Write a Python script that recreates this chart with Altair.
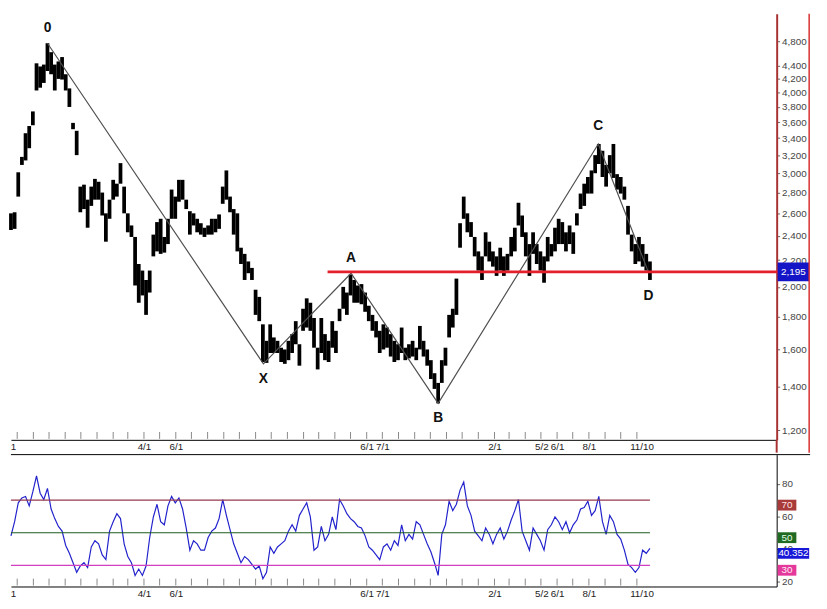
import altair as alt
import pandas as pd

# ---------------- data ----------------
START = "2010-07-20"          # first weekly bar
price_high = [2600, 2610, 3010, 3180, 3460, 3550, 3740, 4440, 4390, 4420,
              4770, 4620, 4420, 4470, 4540, 4270, 4060, 3590, 3490, 2860,
              2880, 2730, 2860, 2940, 2910, 2800, 2600, 2730, 2930, 2890,
              3110, 2860, 2600, 2490, 2390, 2170, 2120, 2050, 2120, 2410,
              2520, 2550, 2390, 2550, 2830, 2760, 2930, 2930, 2730, 2620,
              2600, 2550, 2510, 2470, 2490, 2550, 2550, 2590, 2860, 3030,
              2760, 2640, 2600, 2300, 2250, 2190, 2140, 1980, 1930, 1750,
              1650, 1750, 1670, 1650, 1610, 1600, 1650, 1690, 1770, 1630,
              1850, 1920, 1890, 1790, 1610, 1790, 1690, 1650, 1770, 1710,
              1850, 2000, 1960, 2090, 2050, 2010, 2020, 1960, 1870, 1810,
              1770, 1710, 1750, 1730, 1690, 1650, 1630, 1730, 1610, 1630,
              1650, 1610, 1740, 1650, 1600, 1540, 1470, 1420, 1540, 1610,
              1810, 1850, 2060, 2510, 2760, 2600, 2520, 2390, 2270, 2230,
              2430, 2350, 2270, 2230, 2300, 2230, 2250, 2390, 2470, 2700,
              2580, 2430, 2330, 2430, 2330, 2270, 2230, 2390, 2330, 2470,
              2550, 2520, 2430, 2490, 2430, 2600, 2790, 2890, 2960, 3030,
              3200, 3330, 3250, 3090, 3200, 3330, 2990, 2960, 2860, 2670,
              2410, 2330, 2390, 2330, 2250, 2190]
price_low = [2450, 2460, 2760, 3090, 3140, 3280, 3560, 4030, 4070, 4140,
             4320, 4270, 4030, 4200, 4190, 4030, 3800, 3510, 3200, 2610,
             2640, 2470, 2670, 2730, 2730, 2580, 2350, 2550, 2730, 2760,
             2890, 2600, 2430, 2390, 2010, 1890, 1940, 1810, 1960, 2230,
             2270, 2250, 2260, 2330, 2550, 2550, 2710, 2730, 2640, 2410,
             2490, 2430, 2410, 2390, 2410, 2410, 2430, 2460, 2690, 2730,
             2610, 2410, 2270, 2170, 2050, 2100, 2050, 1810, 1770, 1530,
             1525, 1580, 1580, 1580, 1530, 1520, 1540, 1580, 1630, 1510,
             1710, 1730, 1710, 1610, 1490, 1580, 1540, 1530, 1610, 1580,
             1770, 1850, 1810, 1940, 1890, 1890, 1880, 1830, 1770, 1710,
             1670, 1580, 1600, 1610, 1560, 1530, 1540, 1580, 1540, 1550,
             1560, 1540, 1600, 1560, 1510, 1440, 1390, 1320, 1420, 1510,
             1670, 1730, 1810, 2300, 2550, 2430, 2390, 2230, 2120, 2050,
             2230, 2190, 2150, 2080, 2120, 2080, 2120, 2230, 2270, 2490,
             2390, 2230, 2080, 2250, 2170, 2120, 2030, 2190, 2230, 2270,
             2330, 2330, 2270, 2330, 2250, 2490, 2640, 2670, 2790, 2790,
             3000, 3100, 2960, 2860, 3000, 2950, 2830, 2790, 2730, 2410,
             2270, 2170, 2190, 2150, 2120, 2050]
rsi = [48.1, 56.8, 68.4, 71.4, 72.3, 66.5, 75.2, 85.0, 74.3, 70.4,
       77.2, 64.6, 58.7, 53.9, 51.0, 42.2, 37.4, 31.6, 25.7, 29.6,
       31.6, 28.6, 41.3, 45.1, 43.2, 36.4, 33.5, 51.0, 56.8, 61.7,
       58.7, 43.2, 35.4, 31.6, 23.8, 27.7, 23.8, 29.6, 47.1, 59.7,
       67.5, 56.8, 54.9, 66.5, 72.3, 68.4, 71.4, 64.6, 52.9, 39.3,
       45.1, 43.2, 39.3, 39.3, 47.1, 51.0, 52.9, 58.7, 70.4, 60.7,
       51.9, 43.2, 37.4, 31.6, 35.4, 33.5, 30.6, 27.7, 29.6, 21.8,
       25.7, 41.3, 37.4, 41.3, 43.2, 45.1, 51.0, 54.9, 51.0, 60.7,
       64.6, 68.4, 59.7, 39.3, 41.3, 53.9, 45.1, 49.0, 59.7, 51.9,
       70.4, 66.5, 61.7, 58.7, 56.8, 53.9, 52.9, 48.1, 41.3, 39.3,
       36.4, 33.5, 41.3, 43.2, 39.3, 45.1, 42.2, 54.9, 45.1, 49.0,
       46.1, 56.8, 54.9, 49.0, 43.2, 38.3, 31.6, 23.8, 49.0, 54.9,
       69.4, 63.6, 67.5, 76.2, 81.1, 66.5, 60.7, 51.0, 48.1, 45.1,
       52.9, 49.0, 43.2, 49.0, 52.9, 46.1, 51.0, 57.8, 63.6, 70.4,
       51.0, 45.1, 39.3, 52.9, 49.0, 45.1, 39.3, 51.9, 54.9, 59.7,
       56.8, 51.9, 56.8, 50.0, 54.9, 57.8, 64.6, 65.5, 69.4, 60.7,
       63.6, 72.3, 56.8, 49.0, 60.7, 56.8, 49.0, 46.1, 39.3, 30.6,
       28.6, 25.7, 28.6, 39.3, 37.4, 40.352]

pattern_names = ["0", "X", "A", "B", "C", "D"]
pattern_dates = ["2010-09-28", "2011-11-16", "2012-05-02", "2012-10-16", "2013-08-19", "2013-11-23"]
pattern_values = [4770, 1520, 2100, 1320, 3330, 2110]

tick_label_dates = ["2010-07-24", "2011-04-01", "2011-06-01", "2012-06-01", "2012-07-01",
                    "2013-02-01", "2013-05-02", "2013-06-01", "2013-08-01", "2013-11-10"]
price_ticks = [1200, 1400, 1600, 1800, 2000, 2200, 2400, 2600, 2800, 3000,
               3200, 3400, 3600, 3800, 4000, 4200, 4400, 4800]
rsi_ticks = [20, 40, 60, 80]

support_level = 2110
support_start = "2012-03-18"
last_price_label = "2,195"

rsi_levels = [70, 50, 30]
rsi_level_colors = ["#963a4e", "#1d5e1d", "#d03fc0"]
rsi_boxes = [(70, "70", "#a83a3a", "#ffe2e2", 19),
             (50, "50", "#216a21", "#e6ffe6", 19),
             (40.352, "40.352", "#1818d8", "#ffffff", 32),
             (30, "30", "#e4389b", "#fff0f8", 19)]

# ---------------- layout ----------------
W, H1, H2 = 778, 433, 134
FONT = "Liberation Sans"


def dt(s):
    y, m, d = map(int, s.split("-"))
    return alt.DateTime(year=y, month=m, date=d)


dates = pd.date_range(START, periods=len(price_high), freq="7D")
price_df = pd.DataFrame({"date": dates, "low": price_low, "high": price_high})
rsi_df = pd.DataFrame({"date": dates, "rsi": rsi})
pattern_df = pd.DataFrame({"name": pattern_names, "date": pd.to_datetime(pattern_dates),
                           "value": pattern_values})
months_df = pd.DataFrame({"date": pd.date_range("2010-08-01", "2013-11-01", freq="MS")})

x_scale = alt.Scale(domain=[dt("2010-07-20"), dt("2014-07-27")])
py_scale = alt.Scale(type="log", domain=[1159, 5300], nice=False)
ry_scale = alt.Scale(domain=[17, 98], nice=False)

x_axis = alt.Axis(values=[dt(s) for s in tick_label_dates],
                  labelExpr="year(datum.value) == 2010 ? '1' : timeFormat(datum.value, '%-m/%-d')",
                  ticks=False, domainColor="black", domainWidth=1, labelFont=FONT,
                  labelFontSize=10, labelColor="#222", labelPadding=2, grid=False,
                  title=None, labelOverlap=False, labelFlush=False)

py_axis = alt.Axis(orient="right", values=price_ticks, format=",", tickSize=3,
                   tickColor="#666", labelPadding=2, domainColor="#a83232", domainWidth=2,
                   labelFont=FONT, labelFontSize=10, labelColor="#444", grid=False,
                   title=None, labelOverlap=False)
ry_axis = alt.Axis(orient="right", values=rsi_ticks, tickSize=3, tickColor="#666",
                   labelPadding=2, domainColor="black", domainWidth=1, labelFont=FONT,
                   labelFontSize=10, labelColor="#444", grid=False, title=None)

# ---------------- price panel ----------------
bars = alt.Chart(price_df).mark_rule(color="black", strokeWidth=3.8).encode(
    x=alt.X("date:T", scale=x_scale, axis=x_axis, title=None),
    y=alt.Y("low:Q", scale=py_scale, axis=py_axis, title=None),
    y2="high:Q")

ticks_top = alt.Chart(months_df).mark_rule(color="#888", strokeWidth=1).encode(
    x=alt.X("date:T", title=None), y=alt.value(H1 - 8), y2=alt.value(H1 - 1))

pattern_line = alt.Chart(pattern_df).mark_line(color="#505050", strokeWidth=1.2).encode(
    x=alt.X("date:T", title=None), y=alt.Y("value:Q", title=None))

support = alt.Chart(pd.DataFrame({"date": [pd.Timestamp(support_start)],
                                  "level": [support_level]})).mark_rule(
    color="#e3202c", strokeWidth=3).encode(
    x=alt.X("date:T", title=None), x2=alt.value(W + 2), y=alt.Y("level:Q", title=None))

price_box = alt.Chart(pd.DataFrame({"a": [0]})).mark_rule(
    color="#1515c8", strokeWidth=19, strokeCap="butt").encode(
    x=alt.value(W + 1), x2=alt.value(W + 33), y=alt.datum(support_level))
price_box_text = alt.Chart(pd.DataFrame({"a": [0]})).mark_text(
    text=last_price_label, color="white", font=FONT, fontSize=10,
    align="center", baseline="middle").encode(
    x=alt.value(W + 17), y=alt.datum(support_level))

offsets = {"0": -15, "X": 15, "A": -15, "B": 15, "C": -18, "D": 25}
label_layers = []
for name in pattern_names:
    label_layers.append(
        alt.Chart(pattern_df[pattern_df["name"] == name]).mark_text(
            font=FONT, fontSize=14, fontWeight="bold", color="#111",
            align="center", baseline="middle", dy=offsets[name]).encode(
            x=alt.X("date:T", title=None), y=alt.Y("value:Q", title=None), text="name:N"))

border_r = alt.Chart(pd.DataFrame({"a": [0]})).mark_rule(color="#d83030", strokeWidth=1.5).encode(
    x=alt.value(W + 33), y=alt.value(0), y2=alt.value(H1 + 13))
axis_ext = alt.Chart(pd.DataFrame({"a": [0]})).mark_rule(color="#a83232", strokeWidth=2).encode(
    x=alt.value(W), y=alt.value(H1), y2=alt.value(H1 + 13))

top = alt.layer(bars, ticks_top, pattern_line, support, price_box, price_box_text,
                *label_layers, border_r, axis_ext).properties(width=W, height=H1)

# ---------------- RSI panel ----------------
rsi_line = alt.Chart(rsi_df).mark_line(color="#2222cc", strokeWidth=1.2).encode(
    x=alt.X("date:T", scale=x_scale, axis=x_axis, title=None),
    y=alt.Y("rsi:Q", scale=ry_scale, axis=ry_axis, title=None))

levels_df = pd.DataFrame({"level": rsi_levels, "color": rsi_level_colors,
                          "start": [dates[0]] * 3, "end": [dates[-1]] * 3})
level_rules = alt.Chart(levels_df).mark_rule(strokeWidth=1.2).encode(
    x=alt.X("start:T", title=None), x2="end:T", y=alt.Y("level:Q", title=None),
    color=alt.Color("color:N", scale=None))

ticks_bot = alt.Chart(months_df).mark_rule(color="#888", strokeWidth=1).encode(
    x=alt.X("date:T", title=None), y=alt.value(H2 - 8), y2=alt.value(H2 - 1))

top_border = alt.Chart(pd.DataFrame({"a": [0]})).mark_rule(color="black", strokeWidth=1).encode(
    x=alt.value(0), x2=alt.value(W + 34), y=alt.value(0))

box_layers = []
for level, label, fill, tcol, bw in rsi_boxes:
    box_layers.append(alt.Chart(pd.DataFrame({"a": [0]})).mark_rule(
        color=fill, strokeWidth=11, strokeCap="butt", yOffset=5).encode(
        x=alt.value(W + 1), x2=alt.value(W + 1 + bw), y=alt.datum(level)))
    box_layers.append(alt.Chart(pd.DataFrame({"a": [0]})).mark_text(
        text=label, color=tcol, font=FONT, fontSize=10, align="center",
        baseline="middle", dy=5).encode(
        x=alt.value(W + 1 + bw / 2), y=alt.datum(level)))

bottom = alt.layer(rsi_line, level_rules, ticks_bot, top_border, *box_layers).properties(
    width=W, height=H2)

chart = alt.vconcat(top, bottom, spacing=0).configure_view(stroke=None).properties(
    background="white", padding=0)

chart.save("out.html", embed_options={"renderer": "svg", "actions": False})
